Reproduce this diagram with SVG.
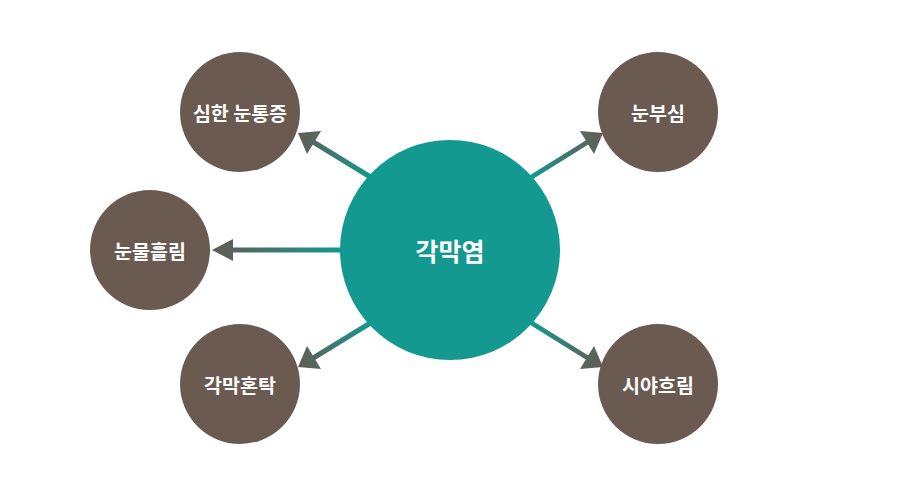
<svg xmlns="http://www.w3.org/2000/svg" width="900" height="500" viewBox="0 0 900 500">
<style>
.sat{fill:#6b5a50}
.main{fill:#139990}
.t{font-family:"Noto Sans CJK KR","Noto Sans",sans-serif;font-weight:700;fill:#fff;text-anchor:middle;dominant-baseline:central}
.s{font-size:19.5px}
.c{font-size:25px}
.ln{stroke-width:5;fill:none}
</style>
<defs>
<linearGradient id="gL" gradientUnits="userSpaceOnUse" x1="342" y1="250" x2="212" y2="250"><stop offset="0" stop-color="#139990"/><stop offset="1" stop-color="#655a52"/></linearGradient>
<linearGradient id="gTL" gradientUnits="userSpaceOnUse" x1="370" y1="177" x2="298" y2="133"><stop offset="0" stop-color="#139990"/><stop offset="1" stop-color="#655a52"/></linearGradient>
<linearGradient id="gTR" gradientUnits="userSpaceOnUse" x1="532" y1="177" x2="603" y2="133"><stop offset="0" stop-color="#139990"/><stop offset="1" stop-color="#655a52"/></linearGradient>
<linearGradient id="gBL" gradientUnits="userSpaceOnUse" x1="370" y1="323" x2="298" y2="367"><stop offset="0" stop-color="#139990"/><stop offset="1" stop-color="#655a52"/></linearGradient>
<linearGradient id="gBR" gradientUnits="userSpaceOnUse" x1="532" y1="323" x2="603" y2="367"><stop offset="0" stop-color="#139990"/><stop offset="1" stop-color="#655a52"/></linearGradient>
</defs>
<g id="connectors">
<line class="ln" x1="342" y1="250" x2="228" y2="250" stroke="url(#gL)"/>
<polygon points="212,250 233,239 233,261" fill="url(#gL)"/>
<line class="ln" x1="372" y1="178" x2="310" y2="140" stroke="url(#gTL)"/>
<polygon points="298,133 321,131 307,154" fill="url(#gTL)"/>
<line class="ln" x1="530" y1="178" x2="591" y2="140" stroke="url(#gTR)"/>
<polygon points="603,133 580,131 594,154" fill="url(#gTR)"/>
<line class="ln" x1="372" y1="322" x2="310" y2="360" stroke="url(#gBL)"/>
<polygon points="298,367 321,369 307,346" fill="url(#gBL)"/>
<line class="ln" x1="530" y1="322" x2="591" y2="360" stroke="url(#gBR)"/>
<polygon points="603,367 580,369 594,346" fill="url(#gBR)"/>
</g>
<g id="center"><circle class="main" cx="450" cy="250" r="110"/><text class="t c" x="450" y="250">각막염</text></g>
<g id="n1"><circle class="sat" cx="240" cy="112" r="60"/><text class="t s" x="240" y="112">심한 눈통증</text></g>
<g id="n2"><circle class="sat" cx="658" cy="112" r="60"/><text class="t s" x="658" y="112">눈부심</text></g>
<g id="n3"><circle class="sat" cx="150" cy="250" r="60"/><text class="t s" x="150" y="250">눈물흘림</text></g>
<g id="n4"><circle class="sat" cx="240" cy="384" r="60"/><text class="t s" x="240" y="384">각막혼탁</text></g>
<g id="n5"><circle class="sat" cx="658" cy="384" r="60"/><text class="t s" x="658" y="384">시야흐림</text></g>
</svg>
